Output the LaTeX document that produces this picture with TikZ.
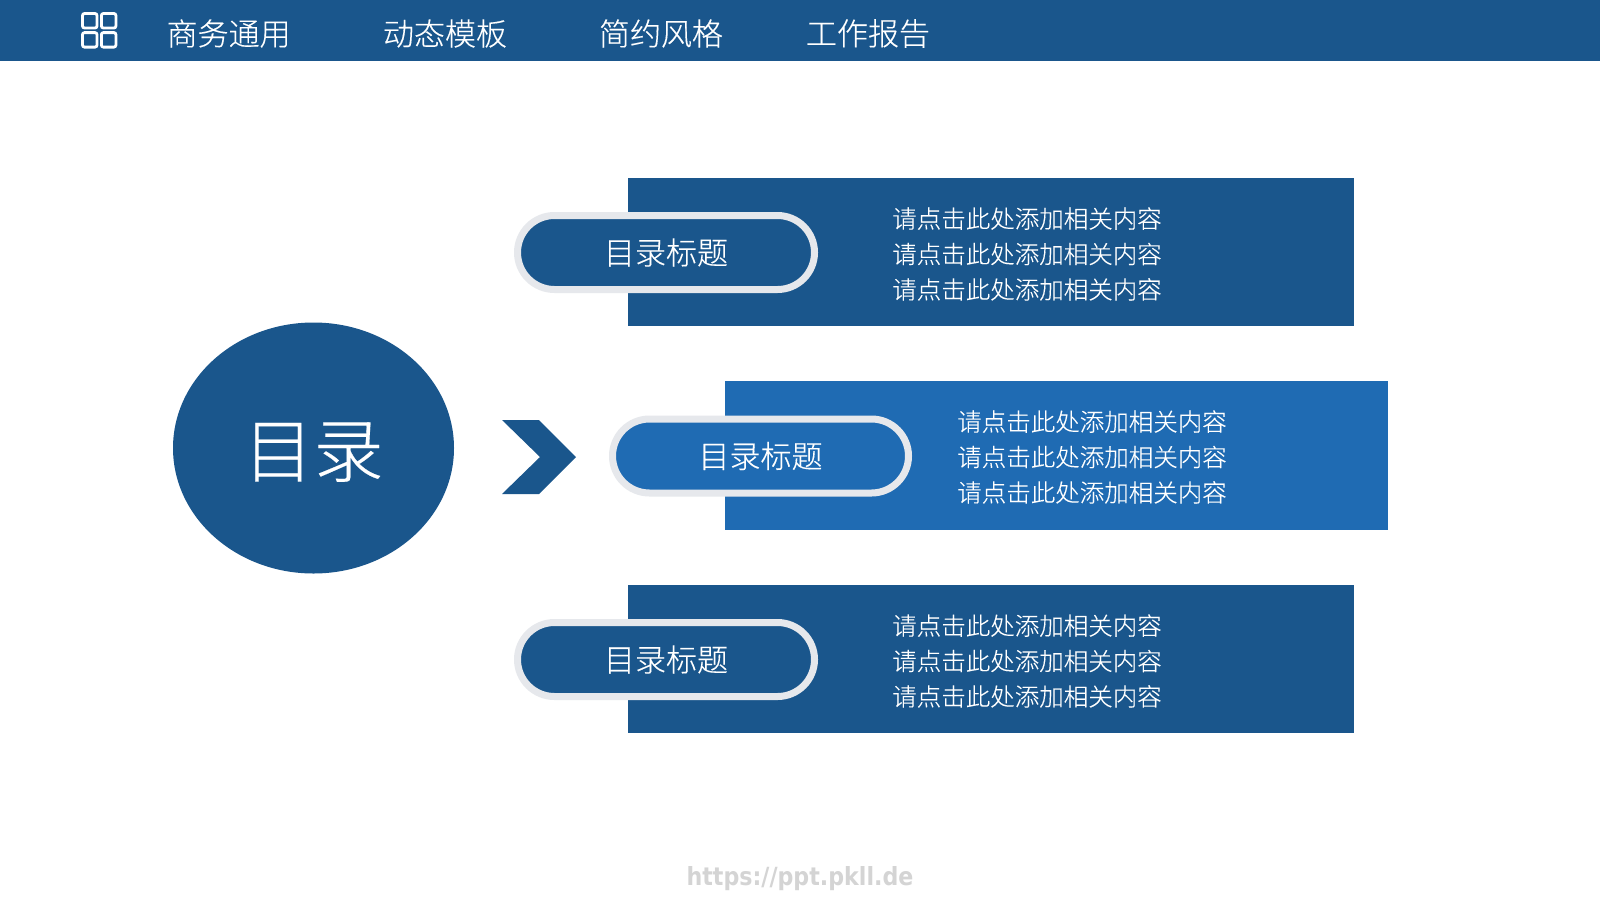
\documentclass[tikz,border=0pt]{standalone}
\usepackage{fontspec}
\usetikzlibrary{shapes.geometric,shapes.misc}
\setmainfont{Noto Sans CJK SC}[UprightFont=* Light,UprightFeatures={FakeBold=0.25}]
\newfontfamily\urlfont{DejaVu Sans}[BoldFont=* Bold,FakeStretch=0.886]
\definecolor{navy}{HTML}{1A568C}
\definecolor{midblue}{HTML}{1F6BB3}
\definecolor{ringgrey}{HTML}{E6E8EC}
\tikzset{
  menutext/.style={text=white,inner sep=0pt,font=\fontsize{31}{36}\selectfont},
  iconsq/.style={draw=white,line width=2.8pt,rounded corners=2pt,minimum width=14.5pt,minimum height=14.5pt,inner sep=0pt},
  pill/.style={rounded rectangle,draw=ringgrey,line width=7pt,minimum width=297pt,minimum height=74pt,inner sep=0pt,text=white,font=\fontsize{31}{36}\selectfont},
  bodytext/.style={text=white,inner sep=0pt,align=left,font=\fontsize{24.5}{35.4}\selectfont},
}
\begin{document}
\begin{tikzpicture}[x=1pt,y=-1pt]
\useasboundingbox (0,0) rectangle (1600,900);
\fill[white] (0,0) rectangle (1600,900);
\node[fill=navy,anchor=north west,minimum width=1600pt,minimum height=61pt,inner sep=0pt] (bar) at (0,0) {};
\node[iconsq] (ic1) at (89.75,20.75) {};
\node[iconsq] (ic2) at (108.65,20.75) {};
\node[iconsq] (ic3) at (89.75,39.85) {};
\node[iconsq] (ic4) at (108.65,39.85) {};
\node[menutext] (m1) at (228.6,33.5) {商务通用};
\node[menutext] (m2) at (445,33.5) {动态模板};
\node[menutext] (m3) at (661,33.5) {简约风格};
\node[menutext] (m4) at (868,33.5) {工作报告};

\node[ellipse,fill=navy,minimum width=281pt,minimum height=251pt,inner sep=0pt,text=white,font=\fontsize{70}{74}\selectfont] (root) at (313.5,448) {\raisebox{-2pt}[61.6pt][8.4pt]{目录}};
\fill[navy] (502,420) -- (539,420) -- (576,457) -- (539,494) -- (502,494) -- (540,457) -- cycle;

\node[fill=navy,anchor=north west,minimum width=726pt,minimum height=148pt,inner sep=0pt] (r1) at (628,178) {};
\node[pill,fill=navy] (p1) at (666,252.5) {目录标题};
\node[bodytext] (t1) at (1027,254) {请点击此处添加相关内容\\请点击此处添加相关内容\\请点击此处添加相关内容};

\node[fill=midblue,anchor=north west,minimum width=663pt,minimum height=149pt,inner sep=0pt] (r2) at (725,381) {};
\node[pill,fill=midblue,minimum width=296pt] (p2) at (760.5,456) {目录标题};
\node[bodytext] (t2) at (1092,457) {请点击此处添加相关内容\\请点击此处添加相关内容\\请点击此处添加相关内容};

\node[fill=navy,anchor=north west,minimum width=726pt,minimum height=148pt,inner sep=0pt] (r3) at (628,585) {};
\node[pill,fill=navy] (p3) at (666,659.5) {目录标题};
\node[bodytext] (t3) at (1027,661) {请点击此处添加相关内容\\请点击此处添加相关内容\\请点击此处添加相关内容};

\node[text=black!17,inner sep=0pt,font=\urlfont\bfseries\fontsize{25}{30}\selectfont] (url) at (800,879) {https://ppt.pkll.de};
\end{tikzpicture}
\end{document}
